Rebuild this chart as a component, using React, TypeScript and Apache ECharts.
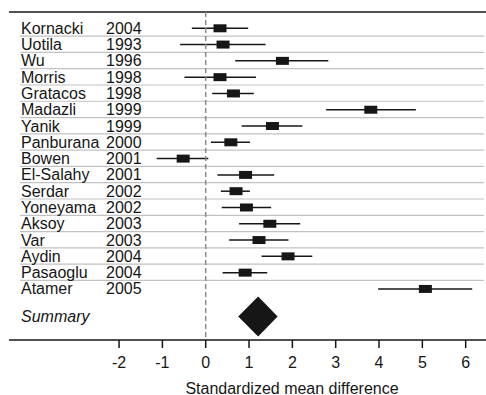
import React, { useEffect, useRef } from "react";
import * as echarts from "echarts";

const studies = [
  "Kornacki", "Uotila", "Wu", "Morris", "Gratacos", "Madazli", "Yanik", "Panburana",
  "Bowen", "El-Salahy", "Serdar", "Yoneyama", "Aksoy", "Var", "Aydin", "Pasaoglu", "Atamer",
];
const years = [
  "2004", "1993", "1996", "1998", "1998", "1999", "1999", "2000",
  "2001", "2001", "2002", "2002", "2003", "2003", "2004", "2004", "2005",
];
const estimates = [0.33, 0.4, 1.77, 0.33, 0.64, 3.81, 1.54, 0.58, -0.52, 0.92, 0.7, 0.94, 1.48, 1.23, 1.9, 0.91, 5.07];
const lowerCI = [-0.32, -0.59, 0.68, -0.49, 0.15, 2.78, 0.83, 0.12, -1.13, 0.27, 0.35, 0.37, 0.77, 0.54, 1.29, 0.39, 3.98];
const upperCI = [0.98, 1.38, 2.83, 1.16, 1.11, 4.85, 2.23, 1.02, 0.06, 1.58, 1.02, 1.51, 2.18, 1.91, 2.46, 1.42, 6.15];

const summaryLabel = "Summary";
const summaryEstimate = [1.21];
const summaryLower = [0.75];
const summaryUpper = [1.66];

const xTicks = [-2, -1, 0, 1, 2, 3, 4, 5, 6];
const xAxisTitle = "Standardized mean difference";

const FONT = "'Liberation Sans', Arial, Helvetica, sans-serif";
const INK = "#161616";
const X_MIN = -4.54;
const X_MAX = 6.469;
const Y_MIN = -1;
const Y_MAX = 19.135;

const hiddenAxisParts = {
  axisLine: { show: false },
  axisTick: { show: false },
  axisLabel: { show: false },
  splitLine: { show: false },
  splitArea: { show: false },
};

export default function App() {
  const ref = useRef<HTMLDivElement | null>(null);

  useEffect(() => {
    if (!ref.current) return;
    const chart = echarts.init(ref.current, undefined, { renderer: "svg" });
    const summaryRow = studies.length + 0.7;

    const studyData = studies.map((_, i) => [estimates[i], lowerCI[i], upperCI[i], i]);
    const summaryData = summaryEstimate.map((e, i) => [e, summaryLower[i], summaryUpper[i], summaryRow]);
    const tickData = xTicks.map((v) => [v, Y_MAX]);

    const option: any = {
      animation: false,
      backgroundColor: "#ffffff",
      grid: { left: 9, right: 0, top: 12, bottom: 55, show: false, borderWidth: 0 },
      xAxis: {
        type: "value",
        min: X_MIN,
        max: X_MAX,
        show: false,
        ...hiddenAxisParts,
      },
      yAxis: {
        type: "value",
        inverse: true,
        min: Y_MIN,
        max: Y_MAX,
        show: false,
        ...hiddenAxisParts,
      },
      graphic: [
        {
          type: "text",
          x: 292,
          y: 388,
          style: {
            text: xAxisTitle,
            fontSize: 16,
            fontFamily: FONT,
            fill: INK,
            align: "center",
            verticalAlign: "middle",
          },
        },
      ],
      series: [
        {
          type: "custom",
          clip: false,
          data: studyData,
          encode: { x: [0, 1, 2], y: 3 },
          renderItem: (params: any, api: any) => {
            const idx = params.dataIndex;
            const row = api.value(3);
            const c = api.coord([api.value(0), row]);
            const l = api.coord([api.value(1), row]);
            const h = api.coord([api.value(2), row]);
            const cs = params.coordSys;
            const children: any[] = [];
            if (idx < studies.length - 1) {
              const sy = api.coord([0, row + 0.48])[1];
              children.push({
                type: "line",
                shape: { x1: cs.x + 11, y1: sy, x2: cs.x + cs.width - 2, y2: sy },
                style: { stroke: "#c2c2c2", lineWidth: 1.2 },
              });
            }
            children.push({
              type: "line",
              shape: { x1: l[0], y1: c[1], x2: h[0], y2: c[1] },
              style: { stroke: INK, lineWidth: 1.5 },
            });
            children.push({
              type: "rect",
              shape: { x: c[0] - 6.5, y: c[1] - 4, width: 13, height: 8 },
              style: { fill: INK },
            });
            children.push({
              type: "text",
              x: cs.x + 12,
              y: c[1],
              style: { text: studies[idx], fontSize: 16, fontFamily: FONT, fill: INK, align: "left", verticalAlign: "middle" },
            });
            children.push({
              type: "text",
              x: cs.x + 97,
              y: c[1],
              style: { text: years[idx], fontSize: 16, fontFamily: FONT, fill: INK, align: "left", verticalAlign: "middle" },
            });
            return { type: "group", children };
          },
          z: 2,
        },
        {
          type: "custom",
          clip: false,
          data: summaryData,
          encode: { x: [0, 1, 2], y: 3 },
          renderItem: (params: any, api: any) => {
            const row = api.value(3);
            const c = api.coord([api.value(0), row]);
            const l = api.coord([api.value(1), row]);
            const h = api.coord([api.value(2), row]);
            const zTop = api.coord([0, Y_MIN]);
            const zBot = api.coord([0, Y_MAX]);
            const cs = params.coordSys;
            return {
              type: "group",
              children: [
                {
                  type: "line",
                  shape: { x1: cs.x, y1: cs.y, x2: cs.x + cs.width, y2: cs.y },
                  style: { stroke: INK, lineWidth: 1.5 },
                },
                {
                  type: "line",
                  shape: { x1: cs.x, y1: cs.y + cs.height, x2: cs.x + cs.width, y2: cs.y + cs.height },
                  style: { stroke: INK, lineWidth: 1.5 },
                },
                {
                  type: "line",
                  shape: { x1: zTop[0], y1: zTop[1], x2: zBot[0], y2: zBot[1] - 2 },
                  style: { stroke: "#8a8a8a", lineWidth: 1.5, lineDash: [5, 3] },
                },
                {
                  type: "polygon",
                  shape: {
                    points: [
                      [l[0], c[1]],
                      [c[0], c[1] - 20],
                      [h[0], c[1]],
                      [c[0], c[1] + 20],
                    ],
                  },
                  style: { fill: INK },
                },
                {
                  type: "text",
                  x: cs.x + 12,
                  y: c[1],
                  style: {
                    text: summaryLabel,
                    fontSize: 16,
                    fontStyle: "italic",
                    fontFamily: FONT,
                    fill: INK,
                    align: "left",
                    verticalAlign: "middle",
                  },
                },
                {
                  type: "line",
                  z2: 100,
                  shape: { x1: cs.x, y1: cs.y + 1.5, x2: cs.x, y2: cs.y + cs.height - 1.5 },
                  style: { stroke: "#ffffff", lineWidth: 3 },
                },
                {
                  type: "line",
                  z2: 100,
                  shape: { x1: cs.x + cs.width - 0.5, y1: cs.y + 1.5, x2: cs.x + cs.width - 0.5, y2: cs.y + cs.height - 1.5 },
                  style: { stroke: "#ffffff", lineWidth: 3 },
                },
              ],
            };
          },
          z: 10,
        },
        {
          type: "custom",
          clip: false,
          data: tickData,
          encode: { x: 0, y: 1 },
          renderItem: (params: any, api: any) => {
            const v = api.value(0);
            const p = api.coord([v, api.value(1)]);
            return {
              type: "group",
              children: [
                {
                  type: "line",
                  shape: { x1: p[0], y1: p[1], x2: p[0], y2: p[1] + 8 },
                  style: { stroke: INK, lineWidth: 1.5 },
                },
                {
                  type: "text",
                  x: p[0],
                  y: p[1] + 22,
                  style: {
                    text: String(v),
                    fontSize: 16,
                    fontFamily: FONT,
                    fill: INK,
                    align: "center",
                    verticalAlign: "middle",
                  },
                },
              ],
            };
          },
          z: 4,
        },
      ],
    };

    chart.setOption(option);
    return () => chart.dispose();
  }, []);

  return (
    <div
      ref={ref}
      style={{ position: "absolute", left: 0, top: 0, width: 486, height: 395, background: "#fff" }}
    />
  );
}
